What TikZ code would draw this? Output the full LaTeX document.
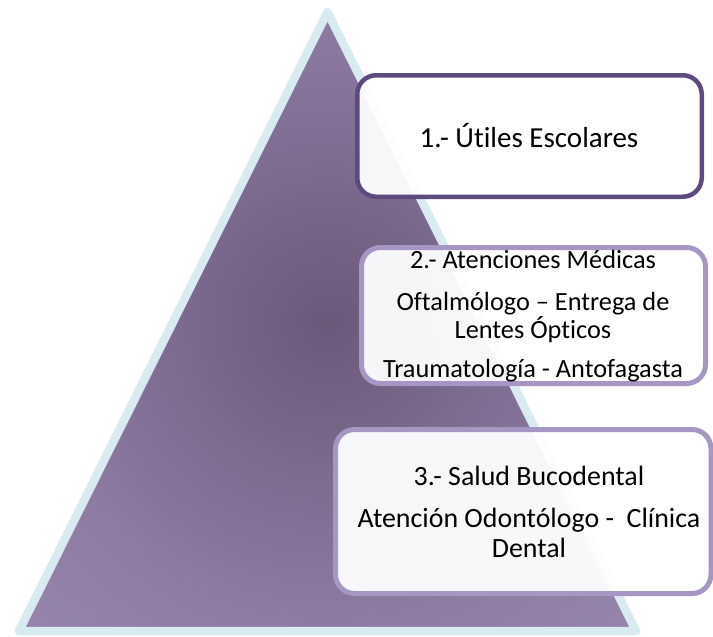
\documentclass[tikz,border=0pt]{standalone}
\usepackage{fontspec}
\setmainfont{Carlito}[Ligatures={NoCommon}, Contextuals={NoAlternate}]
\definecolor{pcen}{HTML}{6B5879}
\definecolor{pa}{HTML}{7C6A8F}
\definecolor{pb}{HTML}{8E7CA3}
\definecolor{pc}{HTML}{A08FB6}
\definecolor{pd}{HTML}{B5A2CD}
\definecolor{tribord}{HTML}{D8EBF1}
\definecolor{darkbord}{HTML}{5D4A7E}
\definecolor{lightbord}{HTML}{A696C3}
\pgfdeclareradialshading{pyrshade}{\pgfpoint{0bp}{0bp}}{color(0bp)=(pcen); color(12bp)=(pa); color(25bp)=(pb); color(48bp)=(pc); color(71bp)=(pd)}
\tikzset{
  boxbase/.style={draw, rectangle, rounded corners=19pt, fill=white, fill opacity=0.94, inner sep=0pt},
  boxdark/.style={boxbase, draw=darkbord, line width=4.5pt},
  boxlight/.style={boxbase, draw=lightbord, line width=5pt},
  txtA/.style={anchor=base, inner sep=0pt, font=\fontsize{29}{34}\selectfont},
  txtB/.style={anchor=base, inner sep=0pt, font=\fontsize{26.3}{31}\selectfont},
  txtC/.style={anchor=base, inner sep=0pt, font=\fontsize{27.9}{33}\selectfont},
}
\begin{document}
\begin{tikzpicture}[x=1pt, y=-1pt]
\useasboundingbox (0,0) rectangle (713,637);
% pyramid
\coordinate (apex) at (327.5,12);
\coordinate (bl) at (19,631);
\coordinate (br) at (636,631);
\fill[black, opacity=0.08] ([shift={(3,4)}]apex) -- ([shift={(3,4)}]br) -- ([shift={(3,4)}]bl) -- cycle;
\shade[shading=pyrshade] (apex) -- (br) -- (bl) -- cycle;
\draw[tribord, line width=8.5pt, line join=round] (apex) -- (br) -- (bl) -- cycle;
% boxes
\node[boxdark, minimum width=344.5pt, minimum height=121.5pt] (b1) at (529.5,136) {};
\node[boxlight, minimum width=344pt, minimum height=136pt] (b2) at (533.5,315.5) {};
\node[boxlight, minimum width=375.5pt, minimum height=164pt] (b3) at (523.25,511.5) {};
% texts
\node[txtA] (t1) at (529,147) {1.- Útiles Escolares};
\node[txtB] (t2a) at (533,268) {2.- Atenciones Médicas};
\node[txtB] (t2b) at (533,310) {Oftalmólogo – Entrega de};
\node[txtB] (t2c) at (533,338) {Lentes Ópticos};
\node[txtB] (t2d) at (533,377) {Traumatología - Antofagasta};
\node[txtC] (t3a) at (529,485) {3.- Salud Bucodental};
\node[txtC] (t3b) at (529,527) {Atención Odontólogo -\ \ Clínica};
\node[txtC] (t3c) at (529,557) {Dental};
\end{tikzpicture}
\end{document}
